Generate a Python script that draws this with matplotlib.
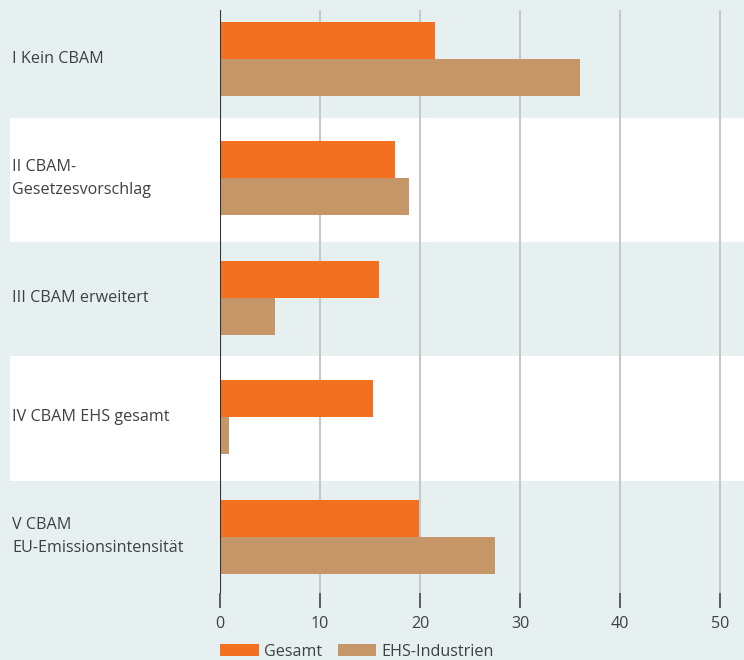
import numpy as np
import matplotlib
matplotlib.use("Agg")
from matplotlib import pyplot as plt

# data
szenarien = ["I Kein CBAM", "II CBAM-\nGesetzesvorschlag", "III CBAM erweitert",
             "IV CBAM EHS gesamt", "V CBAM\nEU-Emissionsintensität"]
gesamt = [21.5, 17.5, 15.9, 15.3, 19.9]
ehs_industrien = [36.0, 18.9, 5.5, 0.9, 27.5]
xticks = [0, 10, 20, 30, 40, 50]

bg = "#e7f0f1"
orange = "#f37021"
tan = "#c49668"
txt = "#404040"

plt.rcParams["font.family"] = ["Open Sans", "DejaVu Sans"]

fig = plt.figure(figsize=(7.44, 6.6), dpi=100, facecolor=bg)
# axes: x=0 at 220px, right edge 744px; top 10px, bottom 593px
ax = fig.add_axes([220 / 744, 1 - 593 / 660, 524 / 744, 583 / 660])
ax.set_facecolor(bg)

y = np.arange(len(szenarien))
h = 0.31

# weisse Streifen hinter II und IV, bis in den Beschriftungsbereich
for i in (1, 3):
    ax.axhspan(i - 0.51, i + 0.53, xmin=-210 / 524, xmax=1, color="white",
               zorder=0, clip_on=False, lw=0)

ax.barh(y - h / 2, gesamt, height=h, color=orange, zorder=3, label="Gesamt")
ax.barh(y + h / 2, ehs_industrien, height=h, color=tan, zorder=3, label="EHS-Industrien")

ax.set_xlim(0, 52.4)
ax.set_ylim(4.47, -0.41)

ax.set_xticks(xticks)
ax.set_xticklabels([str(t) for t in xticks], fontsize=11.6, color=txt)
ax.tick_params(axis="x", length=11, width=1.2, color="#444444", pad=5.5)
ax.set_yticks([])
for t in xticks[1:]:
    ax.axvline(t, color="#c8c8c8", lw=1.5, zorder=1)
ax.axvline(0, color="#333333", lw=1.5, zorder=4)

for s in ax.spines.values():
    s.set_visible(False)

# Beschriftung links
for i, name in enumerate(szenarien):
    ax.text(-208 / 524, i, name, transform=ax.get_yaxis_transform(),
            ha="left", va="center", fontsize=11.6, color=txt, linespacing=1.6)

fig.legend(loc="center left", bbox_to_anchor=(212 / 744, 1 - 652 / 660),
           ncol=2, frameon=False, fontsize=11.6, handlelength=2.4, handleheight=0.75,
           handletextpad=0.3, columnspacing=1.0, labelcolor=txt, borderpad=0)

fig.savefig("out.png", dpi=100, facecolor=bg)
